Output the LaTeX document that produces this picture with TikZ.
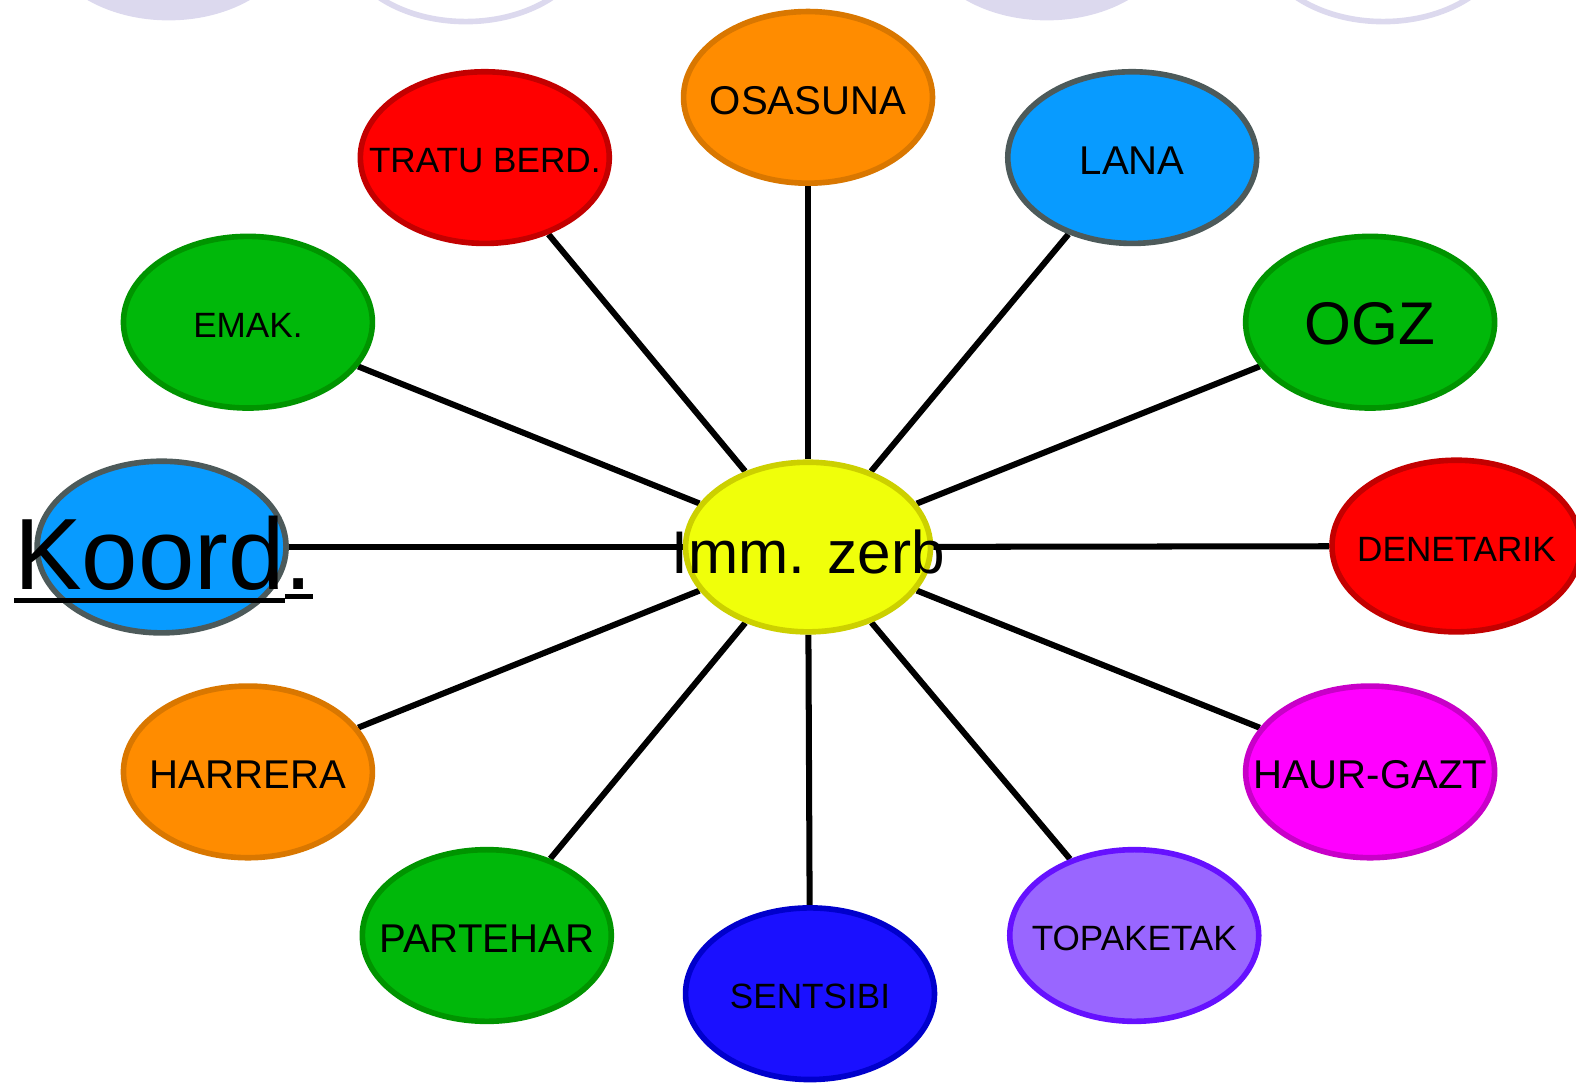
\documentclass[tikz,border=0pt]{standalone}
\usepackage{fontspec}
\setmainfont{Liberation Sans}
\usetikzlibrary{shapes.geometric,backgrounds}

\newcommand{\thickul}[2][-6.8pt]{\setbox0\hbox{#2}\rlap{\rule[#1]{\wd0}{2.5pt}}\box0}

\definecolor{hub}{RGB}{240,255,10}
\definecolor{hubline}{RGB}{204,208,0}
\definecolor{orng}{RGB}{255,140,0}
\definecolor{orngline}{RGB}{217,119,0}
\definecolor{rd}{RGB}{255,0,0}
\definecolor{rdline}{RGB}{195,0,0}
\definecolor{sky}{RGB}{8,155,255}
\definecolor{skyline}{RGB}{77,90,90}
\definecolor{grn}{RGB}{0,184,10}
\definecolor{grnline}{RGB}{0,148,0}
\definecolor{mag}{RGB}{255,0,255}
\definecolor{magline}{RGB}{200,0,200}
\definecolor{blu}{RGB}{26,16,255}
\definecolor{bluline}{RGB}{0,0,204}
\definecolor{vio}{RGB}{153,102,255}
\definecolor{violine}{RGB}{102,17,255}
\definecolor{lav}{RGB}{220,217,238}

\begin{document}
\begin{tikzpicture}[x=0.5pt,y=-0.5pt,
                main node/.style={ellipse,draw,line width=2.8pt,minimum width=124pt,
                minimum height=85.5pt,inner sep=0pt},
                txt/.style={font=\fontsize{17.5}{21}\selectfont,yshift=-1.5pt},
                big txt/.style={font=\fontsize{20}{24}\selectfont,yshift=-1.5pt},
                huge txt/.style={font=\fontsize{30}{36}\selectfont,yshift=-1pt}]
  \useasboundingbox (0,0) rectangle (1570.1,1081);
  \clip (0,0) rectangle (1570.1,1081);

  % shapes cut off at the top edge
  \node[main node,draw=lav,fill=lav] (top1) at (168,-68) {};
  \node[main node,draw=lav,fill=white] (top2) at (464,-64) {};
  \node[main node,draw=lav,fill=lav] (top3) at (1043,-68) {};
  \node[main node,draw=lav,fill=white] (top4) at (1378,-64) {};

  \node[main node,draw=hubline,fill=hub,minimum width=122pt,minimum height=84.5pt,
        label={[huge txt,yshift=-1.5pt]center:Imm. zerb}] (imm) at (805,545) {};

  \node[main node,draw=orngline,fill=orng,label={[big txt]center:OSASUNA}] (osa) at (805,97) {};
  \node[main node,draw=rdline,fill=rd,label={[txt]center:TRATU BERD.}] (tratu) at (483,157) {};
  \node[main node,draw=skyline,fill=sky,label={[big txt]center:LANA}] (lana) at (1128,157) {};
  \node[main node,draw=grnline,fill=grn,label={[txt]center:EMAK.}] (emak) at (247,321) {};
  \node[main node,draw=grnline,fill=grn,label={[huge txt]center:OGZ}] (ogz) at (1365,321) {};
  \node[main node,draw=skyline,fill=sky,
        label={[font=\fontsize{50.5}{60}\selectfont,xshift=1pt,yshift=-6pt]center:\thickul{Koord}\thickul[-5pt]{.}}] (koord) at (161,545) {};
  \node[main node,draw=rdline,fill=rd,label={[txt]center:DENETARIK}] (denet) at (1451,544) {};
  \node[main node,draw=orngline,fill=orng,label={[big txt]center:HARRERA}] (harrera) at (247,769) {};
  \node[main node,draw=magline,fill=mag,label={[big txt]center:HAUR-GAZT}] (haur) at (1365,769) {};
  \node[main node,draw=grnline,fill=grn,label={[big txt]center:PARTEHAR}] (parte) at (485,932) {};
  \node[main node,draw=bluline,fill=blu,label={[txt]center:SENTSIBI}] (sents) at (807,990) {};
  \node[main node,draw=violine,fill=vio,label={[txt]center:TOPAKETAK}] (topak) at (1130,932) {};

  \begin{scope}[on background layer]
  \path[line width=3pt]
    (imm) edge (osa)
          edge (tratu)
          edge (lana)
          edge (emak)
          edge (ogz)
          edge (koord)
          edge (denet)
          edge (harrera)
          edge (haur)
          edge (parte)
          edge (sents)
          edge (topak);
  \end{scope}
\end{tikzpicture}
\end{document}
